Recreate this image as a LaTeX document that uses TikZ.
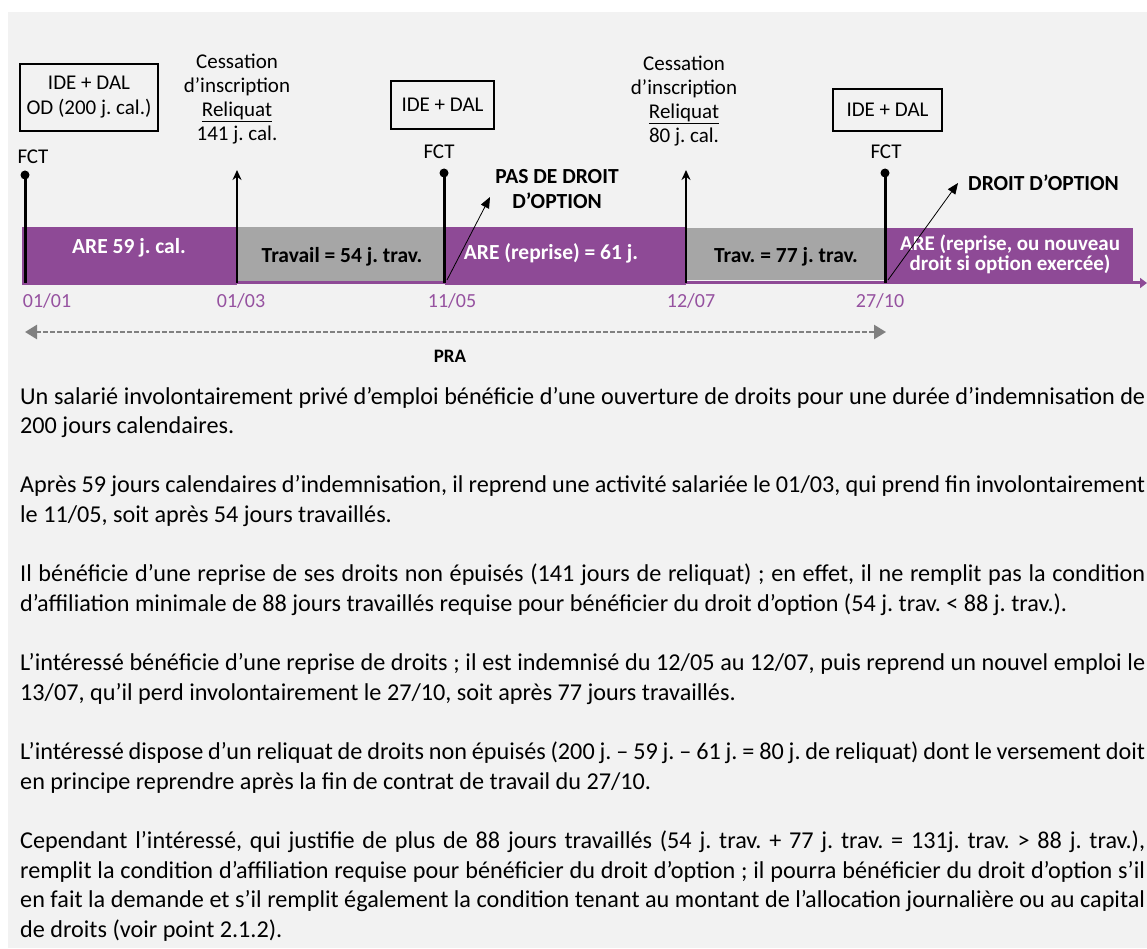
\documentclass[tikz,border=0pt]{standalone}
\usepackage{fontspec}
\setmainfont{Carlito}
\usetikzlibrary{arrows.meta}
\definecolor{bgc}{HTML}{F2F2F2}
\definecolor{pur}{HTML}{8E4A96}
\definecolor{gry}{HTML}{A6A6A6}
\definecolor{dgry}{HTML}{808080}
\definecolor{datec}{HTML}{9652A0}
\frenchspacing
\newcommand\bodyfull[3]{\node[body] (#1) at (20,#2) {\hbox to 1125pt{#3}};}
\newcommand\bodyline[3]{\node[body] (#1) at (20,#2) {#3};}
\begin{document}
\begin{tikzpicture}[x=1pt,y=-1pt,
  lbl/.style={font=\fontsize{21}{24}\selectfont, inner sep=0pt, align=center},
  blbl/.style={font=\fontsize{21.5}{25}\selectfont\bfseries, inner sep=0pt, align=center},
  datel/.style={font=\fontsize{20}{20}\selectfont, text=datec, inner sep=0pt},
  boxn/.style={draw=black, line width=1.5pt, inner sep=0pt, font=\fontsize{21}{25}\selectfont, align=center},
  body/.style={font=\fontsize{24.2}{29.6}\selectfont, inner sep=0pt, anchor=base west},
  dotn/.style={circle, fill=black, inner sep=0pt, minimum size=9pt},
  fctline/.style={line width=3pt},
  cesarrow/.style={line width=2.5pt, -{Stealth[length=10pt,width=9pt]}},
  optarrow/.style={line width=0.8pt, -{Triangle[length=11pt,width=9pt]}},
  praarrow/.style={dgry, line width=2.5pt, dash pattern=on 5pt off 2pt, {Triangle[length=12pt,width=14pt]}-{Triangle[length=12pt,width=14pt]}}
]
\useasboundingbox (0,0) rectangle (1147,949);
\fill[white] (0,0) rectangle (1147,949);
\fill[bgc] (8,12) rectangle (1147,948);

% segments
\fill[pur] (22,227) rectangle (237,285);
\fill[gry] (237,227) rectangle (445,281);
\fill[pur] (445,227) rectangle (686,285);
\fill[gry] (686,228) rectangle (885,280);
\fill[pur] (885,228) rectangle (1133,283);
\coordinate (ax0) at (22,283);
\coordinate (ax1) at (1147,283);
\draw[pur, line width=3pt, -{Triangle[length=7pt,width=10pt]}] (ax0) -- (ax1);

% segment labels
\node[blbl, text=white] (l1) at (129,248) {ARE 59 j. cal.};
\node[blbl] (l2) at (342,257) {Travail = 54 j. trav.};
\node[blbl, text=white] (l3) at (551,253) {ARE (reprise) = 61 j.};
\node[blbl] (l4) at (786,257) {Trav. = 77 j. trav.};
\node[blbl, text=white, font=\fontsize{21}{18}\selectfont\bfseries] (l5) at (1010,254) {ARE (reprise, ou nouveau\\droit si option exercée)};

% FCT markers
\node[dotn] (d1) at (25,175) {};
\coordinate (f1) at (25,283);
\draw[fctline] (d1.center) -- (f1);
\node[lbl] (fct1) at (33,157) {FCT};
\node[dotn] (d2) at (444,173) {};
\coordinate (f2) at (444,283);
\draw[fctline] (d2.center) -- (f2);
\node[lbl] (fct2) at (439,152) {FCT};
\node[dotn] (d3) at (885,173) {};
\coordinate (f3) at (885,283);
\draw[fctline] (d3.center) -- (f3);
\node[lbl] (fct3) at (886,152) {FCT};

% cessation arrows
\coordinate (c1b) at (237,283);
\coordinate (c1t) at (237,170);
\draw[cesarrow] (c1b) -- (c1t);
\node[lbl] (ces1) at (237,99) {Cessation\\d’inscription\\\underline{Reliquat}\\141 j. cal.};
\coordinate (c2b) at (686,283);
\coordinate (c2t) at (686,170);
\draw[cesarrow] (c2b) -- (c2t);
\node[lbl] (ces2) at (684,101) {Cessation\\d’inscription\\\underline{Reliquat}\\80 j. cal.};

% boxes
\node[boxn, minimum width=138pt, minimum height=67pt] (b1) at (89,97.5) {IDE + DAL\\OD (200 j. cal.)};
\node[boxn, minimum width=103pt, minimum height=48pt] (b2) at (442.5,105) {IDE + DAL};
\node[boxn, minimum width=109pt, minimum height=42pt] (b3) at (887.5,110) {IDE + DAL};

% option arrows
\coordinate (o1s) at (447,280);
\coordinate (o1e) at (490,197);
\draw[optarrow] (o1s) -- (o1e);
\node[blbl] (t1) at (557,189) {PAS DE DROIT\\D’OPTION};
\coordinate (o2s) at (888,280);
\coordinate (o2e) at (958,183);
\draw[optarrow] (o2s) -- (o2e);
\node[blbl, anchor=west] (t2) at (968,183) {DROIT D’OPTION};

% dates
\node[datel] (dt1) at (47,301) {01/01};
\node[datel] (dt2) at (241,301) {01/03};
\node[datel] (dt3) at (452,301) {11/05};
\node[datel] (dt4) at (691,301) {12/07};
\node[datel] (dt5) at (880,301) {27/10};

% PRA
\coordinate (p0) at (25,332);
\coordinate (p1) at (886,332);
\draw[praarrow] (p0) -- (p1);
\node[blbl, font=\fontsize{19}{19}\selectfont\bfseries] (pra) at (450,356) {PRA};

% body text
\bodyfull{x1}{404}{Un salarié involontairement privé d’emploi bénéficie d’une ouverture de droits pour une durée d’indemnisation de}
\bodyline{x2}{433.6}{200 jours calendaires.}
\bodyfull{x3}{492.9}{Après 59 jours calendaires d’indemnisation, il reprend une activité salariée le 01/03, qui prend fin involontairement}
\bodyline{x4}{522.5}{le 11/05, soit après 54 jours travaillés.}
\bodyfull{x5}{581.8}{Il bénéficie d’une reprise de ses droits non épuisés (141 jours de reliquat) ; en effet, il ne remplit pas la condition}
\bodyline{x6}{611.4}{d’affiliation minimale de 88 jours travaillés requise pour bénéficier du droit d’option (54 j. trav. < 88 j. trav.).}
\bodyfull{x7}{670.7}{L’intéressé bénéficie d’une reprise de droits ; il est indemnisé du 12/05 au 12/07, puis reprend un nouvel emploi le}
\bodyline{x8}{700.3}{13/07, qu’il perd involontairement le 27/10, soit après 77 jours travaillés.}
\bodyfull{x9}{759.6}{L’intéressé dispose d’un reliquat de droits non épuisés (200 j. – 59 j. – 61 j. = 80 j. de reliquat) dont le versement doit}
\bodyline{x10}{789.2}{en principe reprendre après la fin de contrat de travail du 27/10.}
\bodyfull{x11}{848.5}{Cependant l’intéressé, qui justifie de plus de 88~jours travaillés (54 j. trav. + 77 j. trav. = 131j. trav. > 88 j. trav.),}
\bodyfull{x12}{878.1}{remplit la condition d’affiliation requise pour bénéficier du droit d’option ; il pourra bénéficier du droit d’option s’il}
\bodyfull{x13}{907.7}{en fait la demande et s’il remplit également la condition tenant au montant de l’allocation journalière ou au capital}
\bodyline{x14}{937.3}{de droits (voir point 2.1.2).}
\end{tikzpicture}
\end{document}
